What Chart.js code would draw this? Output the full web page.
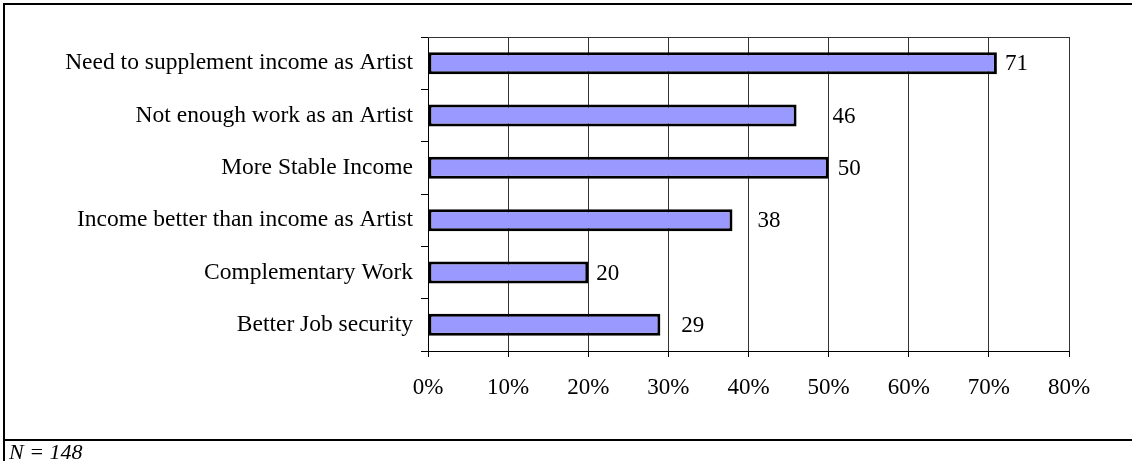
<!DOCTYPE html>
<html>
<head>
<meta charset="utf-8">
<script src="https://cdn.jsdelivr.net/npm/chart.js@4/dist/chart.umd.min.js"></script>
<style>
  html, body { margin: 0; padding: 0; background: #fff; }
  #wrap { position: relative; width: 1132px; height: 461px; overflow: hidden; }
  #c { position: absolute; left: 0; top: 0; }
  .rule { position: absolute; background: #000; }
  #note { position: absolute; left: 9px; top: 440px; font: italic 22px "Liberation Serif", "Times New Roman", serif; color: #000; line-height: 24px; }
</style>
</head>
<body>
<div id="wrap">
  <canvas id="c" width="1132" height="461"></canvas>
  <div class="rule" style="left:3px; top:3px; width:1129px; height:2px;"></div>
  <div class="rule" style="left:3px; top:3px; width:2px; height:458px;"></div>
  <div class="rule" style="left:3px; top:439px; width:1129px; height:2px;"></div>
  <div id="note">N = 148</div>
</div>
<script>
// Reasons given for holding other work (% of respondents)
const reasons = [
  "Need to supplement income as Artist",
  "Not enough work as an Artist",
  "More Stable Income",
  "Income better than income as Artist",
  "Complementary Work",
  "Better Job security"
];
const percentages = [71, 46, 50, 38, 20, 29];
const axisTicks = [0, 10, 20, 30, 40, 50, 60, 70, 80];

const SERIF = '"Liberation Serif", "Times New Roman", serif';

// Value labels just past each bar end, plus the plot-area frame line on top
const barValueLabels = {
  id: 'barValueLabels',
  afterDatasetsDraw(chart, args, opts) {
    const ctx = chart.ctx;
    const meta = chart.getDatasetMeta(0);
    ctx.save();
    ctx.font = opts.font;
    ctx.fillStyle = '#000';
    ctx.textAlign = 'left';
    ctx.textBaseline = 'middle';
    meta.data.forEach((bar, i) => {
      const gap = opts.gaps[i] ?? 8;
      ctx.fillText(String(chart.data.datasets[0].data[i]), bar.x + gap, bar.y + 1);
    });
    ctx.restore();
  },
  beforeDatasetsDraw(chart) {
    const { ctx, chartArea } = chart;
    ctx.save();
    ctx.strokeStyle = '#333';
    ctx.lineWidth = 1;
    ctx.beginPath();
    ctx.moveTo(chartArea.left, Math.round(chartArea.top) + 0.5);
    ctx.lineTo(chartArea.right, Math.round(chartArea.top) + 0.5);
    ctx.stroke();
    ctx.restore();
  }
};

new Chart(document.getElementById('c'), {
  type: 'bar',
  data: {
    labels: reasons,
    datasets: [{
      data: percentages,
      backgroundColor: '#9999FF',
      borderColor: '#000',
      borderWidth: 3,
      borderSkipped: false,
      barPercentage: 0.42,
      categoryPercentage: 1.0
    }]
  },
  options: {
    indexAxis: 'y',
    responsive: false,
    devicePixelRatio: 1,
    animation: false,
    layout: { padding: { top: 37, right: 63, bottom: 0, left: 0 } },
    plugins: {
      legend: { display: false },
      tooltip: { enabled: false },
      barValueLabels: {
        font: '23px ' + SERIF,
        gaps: [8, 36, 9, 25, 8, 21]
      }
    },
    scales: {
      x: {
        type: 'linear',
        min: axisTicks[0],
        max: axisTicks[axisTicks.length - 1],
        afterBuildTicks(scale) { scale.ticks = axisTicks.map(v => ({ value: v })); },
        afterFit(scale) { scale.height = 110; },
        ticks: {
          callback: v => v + '%',
          color: '#000',
          font: { family: SERIF, size: 23 },
          padding: 17,
          maxRotation: 0
        },
        grid: {
          color: '#333',
          lineWidth: 1,
          drawTicks: true,
          tickLength: 6,
          tickColor: '#000'
        },
        border: { display: true, color: '#000', width: 1 }
      },
      y: {
        type: 'category',
        afterFit(scale) { scale.width = 428; },
        ticks: {
          color: '#000',
          font: { family: SERIF, size: 23.5 },
          padding: 8
        },
        grid: {
          offset: true,
          drawOnChartArea: false,
          drawTicks: true,
          tickLength: 7,
          tickColor: '#000'
        },
        border: { display: true, color: '#000', width: 1 }
      }
    }
  },
  plugins: [barValueLabels]
});
</script>
</body>
</html>
